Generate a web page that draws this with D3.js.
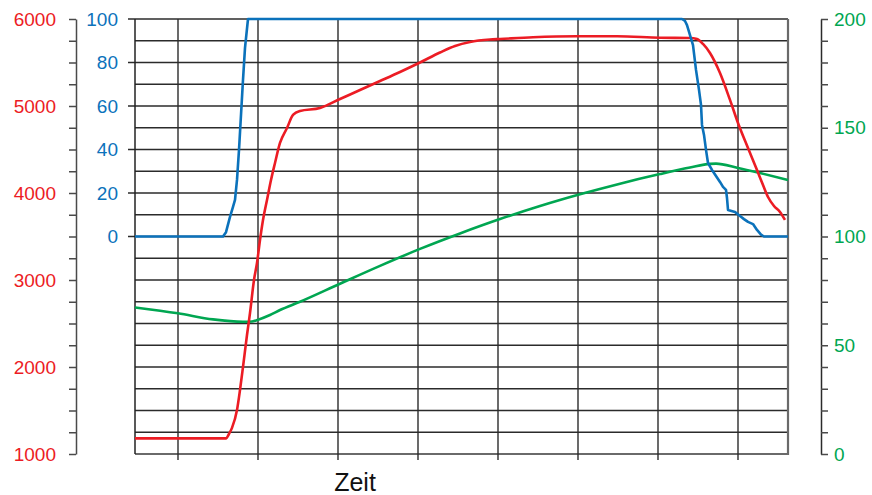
<!DOCTYPE html>
<html><head><meta charset="utf-8">
<script src="https://cdn.jsdelivr.net/npm/d3@7/dist/d3.min.js"></script>
<style>
html,body{margin:0;padding:0;background:#fff;}
text{font-family:"Liberation Sans",Arial,Helvetica,sans-serif;}
</style></head>
<body><svg id="c" width="872" height="495"></svg>
<script>
// ---- data ----
const xGridTicks = [10,20,30,40,50,60,70,80];
const redTickLabels = [1000,2000,3000,4000,5000,6000];
const blueTickLabels = [0,20,40,60,80,100];
const greenTickLabels = [0,50,100,150,200];
const xLabel = "Zeit";

const blueT = [4.625,15.625,16,16.5,16.875,17.125,17.375,17.625,17.875,18.125,18.375,18.75,73,73.375,73.625,74,74.375,74.75,75.125,75.375,75.5,75.75,76,76.25,76.75,77.25,77.75,78.125,78.5,78.625,78.75,79.625,80.25,80.75,81.25,81.875,82.375,82.875,83.25,86.25];
const blueV = [0,0,2,9,13.6,16.8,26,39.8,55.9,72,86.7,100,100,99.1,97.2,92.6,88,76.6,67.4,60.5,51.3,46.7,39.8,33.8,30.6,27.8,25.1,22.8,21.4,17.7,12.2,11.3,9.4,8,6.7,5.7,3,0.9,0,0];

const redT = [4.625,16,16.375,16.75,17.375,17.75,18.125,18.625,19,19.5,19.875,20.25,20.625,21.125,21.625,22.125,22.75,23.625,24.375,25.25,27.75,30.25,32.75,35.25,37.75,40.25,42.75,44.625,46.5,49,50.25,54.375,59.875,64.875,70.25,74,74.875,75.625,76.5,77.75,79,80,81.25,82.375,83.125,83.75,84.5,85.25,85.875];
const redV = [1180,1180,1230,1300,1506,1736,2000,2368,2621,3000,3195,3460,3690,3920,4149,4345,4575,4747,4897,4943,4977,5080,5184,5287,5391,5500,5615,5690,5736,5764,5770,5790,5801,5801,5785,5782,5770,5713,5609,5379,5070,4805,4517,4264,4092,3954,3851,3782,3690];

const greenT = [4.625,10,14.375,18.125,19.25,19.75,21.5,22.75,25.25,30.25,35.25,40.25,45.25,50.25,55.25,60.25,65.25,70.25,74,76.5,77.25,80,82.75,86.25];
const greenV = [67.4,64.7,61.9,60.8,60.9,61.4,63.9,66.2,70,78.3,86.5,94.3,101.4,108,114,119.4,124.3,128.7,131.7,133.4,133.5,131.5,129.2,126];

// ---- layout ----
const RED="#ec1c24", BLUE="#0b72bb", GREEN="#00a651";
const L=135, R=788, T=19, B=454;
const svg=d3.select("#c");

const x=d3.scaleLinear().domain([4.625,86.25]).range([L,R]);
const yBlue=d3.scaleLinear().domain([-100,100]).range([B,T]);
const yRed=d3.scaleLinear().domain([1000,6000]).range([B,T]);
const yGreen=d3.scaleLinear().domain([0,200]).range([B,T]);

// horizontal grid
const g=svg.append("g");
g.selectAll("line.h").data(d3.range(-100,101,10)).join("line")
  .attr("x1",d=>blueTickLabels.includes(d)?L-7:L).attr("x2",R)
  .attr("y1",d=>yBlue(d)).attr("y2",d=>yBlue(d))
  .attr("stroke",d=>d===-100?"#6a6a6a":"#2b2b2b").attr("stroke-width",d=>d===-100?2:1.4);
// vertical grid
g.selectAll("line.v").data(xGridTicks).join("line")
  .attr("x1",d=>x(d)).attr("x2",d=>x(d)).attr("y1",T).attr("y2",B+6)
  .attr("stroke","#2b2b2b").attr("stroke-width",1.4);
// left plot edge & right border
g.append("line").attr("x1",L).attr("x2",L).attr("y1",T).attr("y2",B).attr("stroke","#222").attr("stroke-width",1.5);
g.append("line").attr("x1",R).attr("x2",R).attr("y1",T).attr("y2",B+1).attr("stroke","#6a6a6a").attr("stroke-width",2.2);

// blue labels
svg.append("g").selectAll("text").data(blueTickLabels).join("text")
  .attr("x",118).attr("y",d=>yBlue(d)).attr("dy","0.36em").attr("text-anchor","end")
  .attr("fill",BLUE).attr("font-size",19).text(d=>d);

// red axis
const redAxis=d3.axisLeft(yRed).tickValues(d3.range(1000,6001,250)).tickSize(7).tickSizeOuter(0)
  .tickFormat(d=>redTickLabels.includes(d)?d:"");
const ra=svg.append("g").attr("transform","translate(76,0)").call(redAxis);
ra.select(".domain").attr("stroke","#4a4a4a").attr("stroke-width",1.5);
ra.selectAll(".tick line").attr("stroke","#4a4a4a").attr("stroke-width",1.5);
ra.selectAll(".tick text").attr("x",-20).attr("fill",RED).attr("font-size",19)
  .attr("font-family","Liberation Sans, Arial, sans-serif");

// green axis
const greenAxis=d3.axisRight(yGreen).tickValues(d3.range(0,201,10)).tickSize(7).tickSizeOuter(0)
  .tickFormat(d=>greenTickLabels.includes(d)?d:"");
const ga=svg.append("g").attr("transform","translate(821,0)").call(greenAxis);
ga.select(".domain").attr("stroke","#2b2b2b").attr("stroke-width",1.5);
ga.selectAll(".tick line").attr("stroke","#4a4a4a").attr("stroke-width",1.5);
ga.selectAll(".tick text").attr("x",13).attr("fill",GREEN).attr("font-size",19)
  .attr("font-family","Liberation Sans, Arial, sans-serif");

// lines
function draw(ts,vs,ys,col,curve){
  const pts=ts.map((t,i)=>[t,vs[i]]);
  svg.append("path").datum(pts)
    .attr("d",d3.line().x(d=>x(d[0])).y(d=>ys(d[1])).curve(curve))
    .attr("fill","none").attr("stroke",col).attr("stroke-width",2.6).attr("stroke-linejoin","round");
}
draw(greenT,greenV,yGreen,GREEN,d3.curveMonotoneX);
draw(redT,redV,yRed,RED,d3.curveMonotoneX);
draw(blueT,blueV,yBlue,BLUE,d3.curveLinear);

// x label
svg.append("text").attr("x",355).attr("y",491).attr("text-anchor","middle")
  .attr("font-size",25).attr("fill","#111").text(xLabel);
</script></body></html>
